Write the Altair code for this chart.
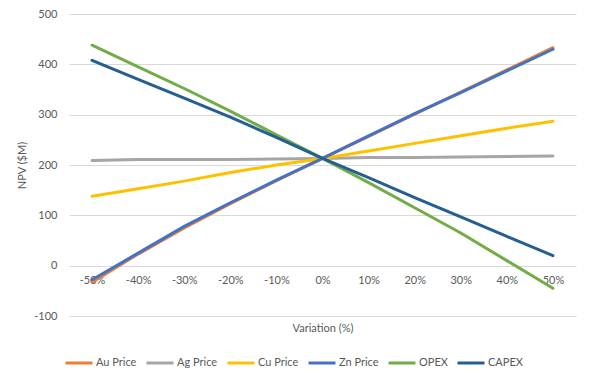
import altair as alt
import pandas as pd

variation = ["-50%", "-40%", "-30%", "-20%", "-10%", "0%", "10%", "20%", "30%", "40%", "50%"]
series = ["Au Price", "Ag Price", "Cu Price", "Zn Price", "OPEX", "CAPEX"]
colors = ["#ED7D31", "#A5A5A5", "#FFC000", "#4472C4", "#70AD47", "#255E91"]

au_price = [-33, 23, 75, 123, 169, 213, 257, 301, 345, 389, 433]
ag_price = [209, 211, 211, 211, 212, 213, 215, 215, 216, 217, 218]
cu_price = [138, 153, 168, 185, 200, 213, 228, 243, 258, 273, 287]
zn_price = [-28, 25, 78, 125, 170, 213, 258, 302, 344, 387, 430]
opex = [438, 395, 352, 307, 260, 213, 165, 115, 65, 10, -45]
capex = [408, 370, 333, 295, 255, 213, 175, 135, 97, 58, 20]

values = [au_price, ag_price, cu_price, zn_price, opex, capex]
rows = []
for si, (name, vals) in enumerate(zip(series, values)):
    for v, val in zip(variation, vals):
        rows.append({"Variation": v, "Series": name, "NPV": val, "order": si})
df = pd.DataFrame(rows)

font = "Lato"
grey = "#595959"

chart = alt.Chart(df).mark_line(strokeWidth=3, strokeCap="round", strokeJoin="round").encode(
    x=alt.X("Variation:O", sort=variation,
            scale=alt.Scale(type="point", padding=0.5),
            axis=alt.Axis(title="Variation (%)", labelAngle=0, domain=False, ticks=False,
                          grid=False, offset=-50.3, labelPadding=9,
                          titleY=63, titleBaseline="middle", titlePadding=0)),
    y=alt.Y("NPV:Q", scale=alt.Scale(domain=[-100, 500], nice=False),
            axis=alt.Axis(title="NPV ($M)", values=[-100, 0, 100, 200, 300, 400, 500],
                          labelExpr="'' + datum.value",
                          domain=False, ticks=False, labelPadding=12, titlePadding=6,
                          gridColor="#D9D9D9", gridWidth=1)),
    color=alt.Color("Series:N", sort=series,
                    scale=alt.Scale(domain=series, range=colors),
                    legend=alt.Legend(title=None, orient="none", direction="horizontal",
                                      legendX=-5, legendY=334, symbolType="stroke",
                                      symbolSize=729, symbolStrokeWidth=3,
                                      labelOffset=2, columnPadding=3)),
    order=alt.Order("order:Q"),
    detail="Series:N",
).properties(
    width=507, height=302,
    autosize=alt.AutoSizeParams(type="none"),
    padding={"left": 61, "top": 6, "right": 6, "bottom": 58},
).configure_view(stroke=None).configure_axis(
    labelFont=font, titleFont=font, labelFontSize=11, titleFontSize=11,
    labelColor=grey, titleColor=grey, titleFontWeight="normal",
).configure_legend(labelFont=font, labelFontSize=11, labelColor=grey)

chart.save("out.html", embed_options={"renderer": "svg", "actions": False})
